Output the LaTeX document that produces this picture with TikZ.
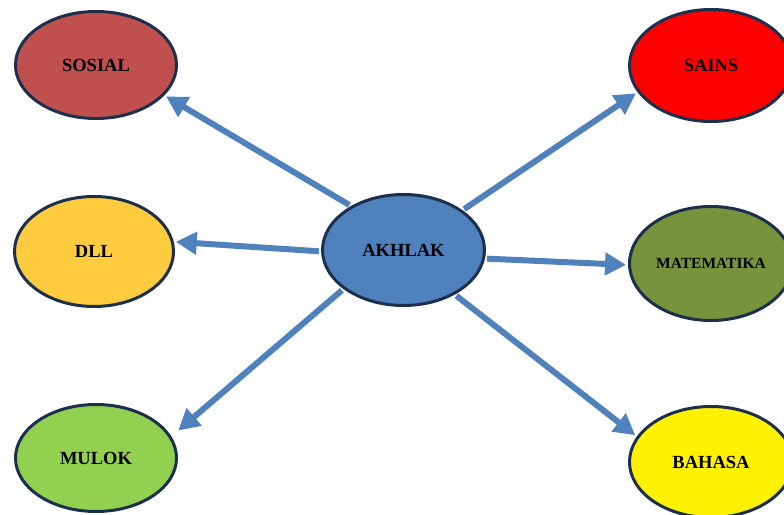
\documentclass[tikz,border=0pt]{standalone}
\usepackage{fontspec}
\setmainfont{Liberation Serif}
\usetikzlibrary{shapes.geometric,arrows.meta}
\definecolor{rimblue}{RGB}{28,48,78}
\definecolor{linkblue}{RGB}{79,129,189}
\definecolor{sosred}{RGB}{192,80,77}
\definecolor{dllgold}{RGB}{254,204,62}
\definecolor{mulgreen}{RGB}{146,208,80}
\definecolor{matolive}{RGB}{119,147,60}
\begin{document}
\begin{tikzpicture}[x=1pt,y=1pt,
    bubble/.style={ellipse,draw=rimblue,line width=3pt,inner sep=0pt,
      font=\fontsize{18.5}{20}\selectfont\bfseries},
    link/.style={draw=linkblue,line width=6pt,
      -{Triangle[length=21pt,width=22pt]},shorten <=2pt,shorten >=2pt}]
\useasboundingbox (0,0) rectangle (784,514);

            \node[bubble,fill=linkblue,minimum width=162pt,minimum height=111pt] (ak) at (403.5,264) {AKHLAK};
            \node[bubble,fill=sosred,minimum width=161pt,minimum height=107pt] (sos) at (96,449) {SOSIAL};
            \node[bubble,fill=dllgold,minimum width=159pt,minimum height=110pt] (dll) at (94,262.5) {DLL};
            \node[bubble,fill=mulgreen,minimum width=161pt,minimum height=107pt] (mul) at (96,56) {MULOK};
            \node[bubble,fill=red,minimum width=163pt,minimum height=112pt] (sai) at (711,448.5) {SAINS};
            \node[bubble,fill=matolive,minimum width=163pt,minimum height=114pt,
                  font=\fontsize{15.5}{17}\selectfont\bfseries] (mat) at (711,250.5) {MATEMATIKA};
            \node[bubble,fill=yellow,minimum width=163pt,minimum height=111pt] (bah) at (711,52) {BAHASA};

%             left side
            \draw[link] (ak.140) -- (sos.336);
            \draw[link] (ak.181) -- (dll.7);
            \draw[link,shorten >=9pt] (ak.213) -- (mul.16);
%             right side
            \draw[link] (ak.34) -- (sai.200);
            \draw[link] (ak.354) -- (mat.181);
            \draw[link] (ak.319) -- (bah.161);
        \end{tikzpicture}
\end{document}
